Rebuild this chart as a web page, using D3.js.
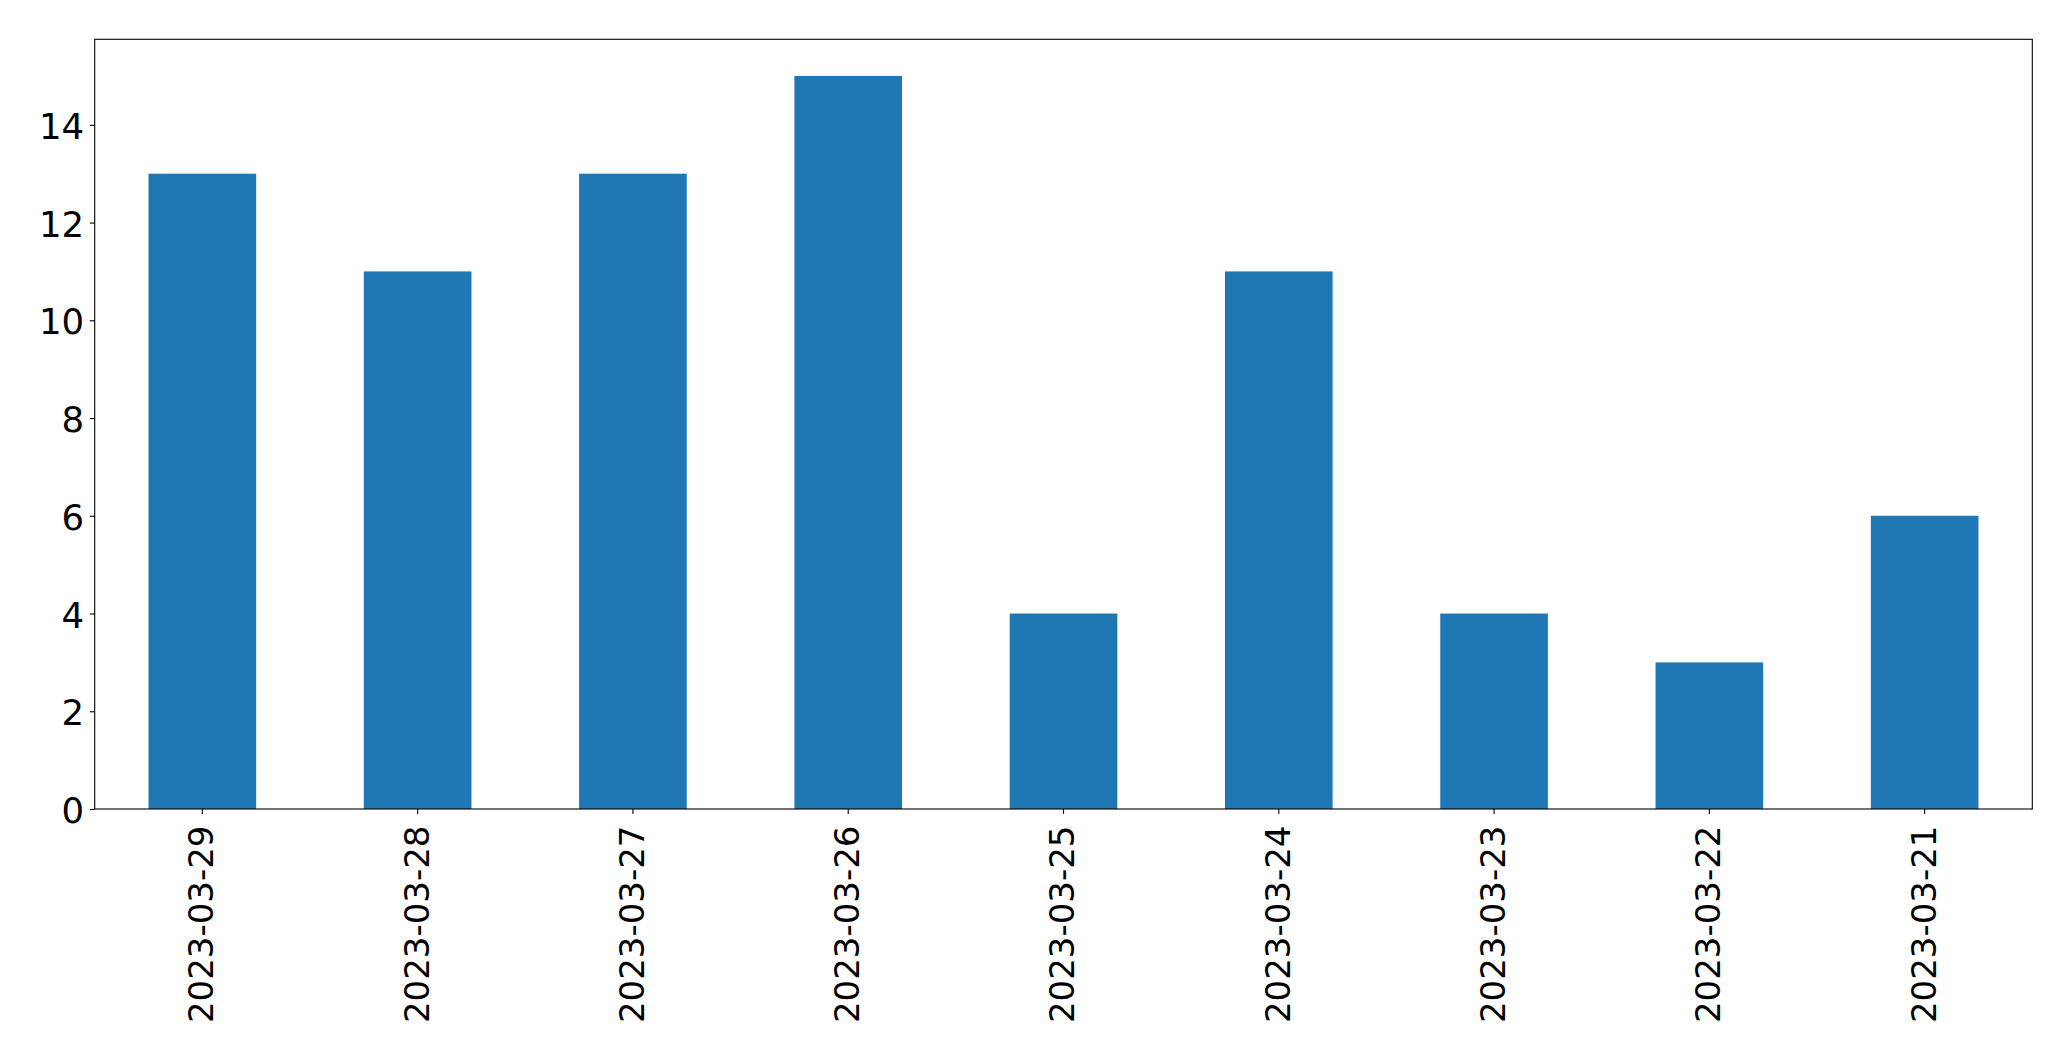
<!DOCTYPE html>
<html>
<head>
<meta charset="utf-8">
<script src="https://cdn.jsdelivr.net/npm/d3@7"></script>
<style>
  html, body { margin: 0; padding: 0; background: #ffffff; }
  svg { display: block; }
  text { font-family: "DejaVu Sans", sans-serif; fill: #000; }
</style>
</head>
<body>
<svg id="chart" width="2071" height="1061"></svg>
<script>
const categories = ["2023-03-29","2023-03-28","2023-03-27","2023-03-26","2023-03-25","2023-03-24","2023-03-23","2023-03-22","2023-03-21"];
const values = [13, 11, 13, 15, 4, 11, 4, 3, 6];
const yTicks = [0, 2, 4, 6, 8, 10, 12, 14];

(function () {
const mLeft = 94.7, mRight = 2032.3, mTop = 39.3, mBottom = 809;

const svg = d3.select("#chart");

const x = d3.scaleBand()
  .domain(categories)
  .range([mLeft, mRight])
  .paddingInner(0.5)
  .paddingOuter(0.25);

const y = d3.scaleLinear()
  .domain([0, d3.max(values) * 1.05])
  .range([mBottom, mTop]);

// bars
svg.append("g")
  .selectAll("rect")
  .data(categories)
  .join("rect")
  .attr("x", d => x(d))
  .attr("width", x.bandwidth())
  .attr("y", (d, i) => y(values[i]))
  .attr("height", (d, i) => y(0) - y(values[i]))
  .attr("fill", "#1f77b4");

// y axis
const yAxis = d3.axisLeft(y).tickValues(yTicks).tickSize(4.9).tickPadding(0).tickFormat(d3.format("d"));
const gy = svg.append("g").attr("transform", `translate(${mLeft},0)`).call(yAxis);
gy.select(".domain").remove();
gy.selectAll(".tick line").attr("stroke", "#000").attr("stroke-width", 1.1);
gy.selectAll(".tick text")
  .attr("x", -10.5)
  .attr("dy", null)
  .attr("y", 13.5)
  .attr("font-size", 35.5)
  .attr("font-family", "DejaVu Sans, sans-serif")
  .attr("fill", "#000");

// x axis
const xAxis = d3.axisBottom(x).tickSize(4.9).tickPadding(0);
const gx = svg.append("g").attr("transform", `translate(0,${mBottom})`).call(xAxis);
gx.select(".domain").remove();
gx.selectAll(".tick line").attr("stroke", "#000").attr("stroke-width", 1.1);
gx.selectAll(".tick text")
  .attr("y", null).attr("dy", null).attr("x", null)
  .attr("transform", "translate(10.9,16.5) rotate(-90)")
  .attr("text-anchor", "end")
  .attr("font-size", 34)
  .attr("font-family", "DejaVu Sans, sans-serif")
  .attr("fill", "#000");

// frame
svg.append("rect")
  .attr("x", mLeft).attr("y", mTop)
  .attr("width", mRight - mLeft).attr("height", mBottom - mTop)
  .attr("fill", "none").attr("stroke", "#000").attr("stroke-width", 1.1);
})();
</script>
</body>
</html>
